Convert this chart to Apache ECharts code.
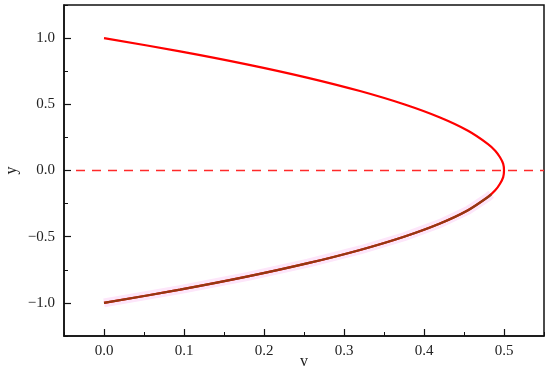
<!DOCTYPE html>
<html>
<head>
<meta charset="utf-8">
<script src="https://cdn.jsdelivr.net/npm/echarts@6/dist/echarts.min.js"></script>
<style>
  html, body { margin: 0; padding: 0; background: #fff; }
  #chart { width: 550px; height: 372px; }
</style>
</head>
<body>
<div id="chart"></div>
<script>
// values (v along x, y along y)
const curveY = [1.0, 0.9, 0.8, 0.7, 0.6, 0.5, 0.4, 0.3, 0.2, 0.15, 0.1, 0.05, 0.0,
  -0.05, -0.1, -0.15, -0.2, -0.3, -0.4, -0.5, -0.6, -0.7, -0.8, -0.9, -1.0];
const curveV = [0.0, 0.095, 0.18, 0.255, 0.32, 0.375, 0.42, 0.455, 0.48, 0.489, 0.495, 0.499, 0.5,
  0.499, 0.495, 0.489, 0.48, 0.455, 0.42, 0.375, 0.32, 0.255, 0.18, 0.095, 0.0];
const lowerY = [-0.18, -0.2, -0.3, -0.4, -0.5, -0.6, -0.7, -0.8, -0.9, -1.0];
const lowerV = [0.484, 0.48, 0.455, 0.42, 0.375, 0.32, 0.255, 0.18, 0.095, 0.0];
const zeroLineV = [-0.035, 0.55];

const xTicks = [0.0, 0.1, 0.2, 0.3, 0.4, 0.5];
const yTicks = [-1.0, -0.5, 0.0, 0.5, 1.0];

const font = 'Liberation Serif';
const minus = (v) => v.toFixed(1).replace('-', '\u2212');

const chart = echarts.init(document.getElementById('chart'));

const lineCol = '#111';
const labelStyle = { color: '#222', fontFamily: font, fontSize: 15 };

chart.setOption({
  animation: false,
  grid: {
    left: 64, right: 6, top: 5, bottom: 36,
    outerBoundsMode: 'none',
    show: true, borderColor: lineCol, borderWidth: 1.5
  },
  xAxis: [
    {
      type: 'value', min: -0.05, max: 0.55, interval: 0.05,
      name: 'v', nameLocation: 'middle', nameGap: 18, nameMoveOverlap: false,
      nameTextStyle: { color: '#222', fontFamily: font, fontSize: 16 },
      axisLine: { show: true, onZero: false, lineStyle: { color: lineCol, width: 1.5 } },
      axisTick: { show: true, inside: true, length: 7, customValues: xTicks,
        lineStyle: { color: lineCol, width: 1.2 } },
      axisLabel: Object.assign({ margin: 8, customValues: xTicks, formatter: minus }, labelStyle),
      splitLine: { show: false }
    },
    {
      type: 'value', min: -0.05, max: 0.55, interval: 0.05, position: 'bottom',
      axisLine: { show: false, onZero: false },
      axisTick: { show: true, inside: true, length: 4, lineStyle: { color: lineCol, width: 1 } },
      axisLabel: { show: false },
      splitLine: { show: false }
    }
  ],
  yAxis: [
    {
      type: 'value', min: -1.25, max: 1.25, interval: 0.25,
      name: 'y', nameLocation: 'middle', nameGap: 44, nameMoveOverlap: false,
      nameTextStyle: { color: '#222', fontFamily: font, fontSize: 16 },
      axisLine: { show: true, onZero: false, lineStyle: { color: lineCol, width: 1.5 } },
      axisTick: { show: true, inside: true, length: 7, customValues: yTicks,
        lineStyle: { color: lineCol, width: 1.2 } },
      axisLabel: Object.assign({ margin: 9, customValues: yTicks, formatter: minus }, labelStyle),
      splitLine: { show: false }
    },
    {
      type: 'value', min: -1.25, max: 1.25, interval: 0.25, position: 'left',
      axisLine: { show: false, onZero: false },
      axisTick: { show: true, inside: true, length: 4, lineStyle: { color: lineCol, width: 1 } },
      axisLabel: { show: false },
      splitLine: { show: false }
    }
  ],
  series: [
    {
      type: 'line', showSymbol: false, silent: true,
      data: zeroLineV.map((v) => [v, 0]),
      lineStyle: { color: '#ff2a2a', width: 1.5, type: [9, 7] }
    },
    {
      type: 'line', showSymbol: false, silent: true,
      data: lowerV.map((v, i) => [v, lowerY[i]]),
      lineStyle: { color: '#fde6fa', width: 9 }
    },
    {
      type: 'line', showSymbol: false, silent: true, smooth: 0.3,
      data: curveV.map((v, i) => [v, curveY[i]]),
      lineStyle: { color: '#ff0000', width: 2.2 }
    },
    {
      type: 'line', showSymbol: false, silent: true, smooth: 0.3,
      data: lowerV.map((v, i) => [v, lowerY[i]]),
      lineStyle: { color: '#933812', width: 2.2 }
    }
  ]
});
</script>
</body>
</html>
